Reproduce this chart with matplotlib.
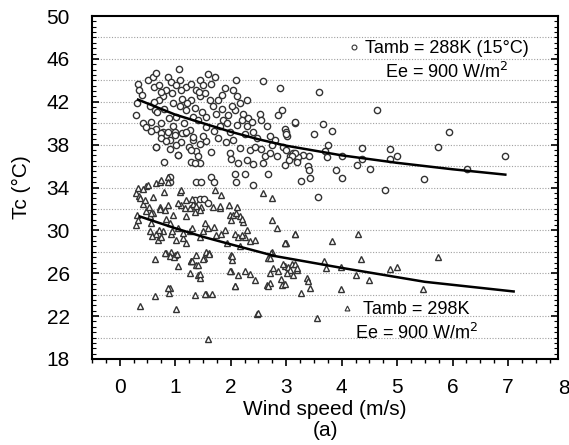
import numpy as np
import matplotlib.pyplot as plt
from matplotlib.ticker import MultipleLocator
from matplotlib.lines import Line2D

plt.rcParams['font.family'] = ['Liberation Sans', 'DejaVu Sans']

# Tamb = 288K, circles (wind speed m/s, Tc degC)
circ_pts = [
    (0.30, 40.8), (0.33, 43.7), (0.35, 43.1), (0.32, 41.9), (0.41, 42.6), (0.42, 40.0),
    (0.48, 39.6), (0.51, 44.0), (0.60, 44.3), (0.66, 44.7), (0.61, 43.4), (0.70, 43.6),
    (0.78, 42.5), (0.71, 42.2), (0.87, 44.3), (0.93, 43.8), (0.84, 43.1), (0.63, 41.2),
    (0.57, 40.1), (0.65, 39.5), (0.75, 40.0), (0.78, 39.2), (0.66, 37.8), (0.84, 38.9),
    (0.90, 38.4), (0.79, 36.4), (1.05, 37.0), (0.96, 39.7), (1.02, 40.6), (1.08, 41.6),
    (0.96, 41.9), (1.13, 42.3), (1.06, 45.1), (1.08, 44.0), (1.20, 43.4), (1.11, 43.1),
    (1.29, 43.7), (1.38, 43.1), (1.44, 44.0), (1.50, 43.6), (1.59, 44.6), (1.71, 44.3),
    (1.44, 42.5), (1.53, 42.8), (1.29, 42.2), (1.20, 41.2), (1.32, 40.6), (1.41, 40.3),
    (1.26, 39.4), (1.17, 39.1), (1.32, 38.4), (1.44, 38.1), (1.56, 38.3), (1.38, 37.4),
    (1.41, 36.9), (1.44, 36.3), (1.29, 36.4), (1.56, 40.6), (1.68, 41.6), (1.77, 42.2),
    (1.84, 42.6), (1.74, 40.9), (1.87, 40.3), (1.80, 39.7), (1.93, 40.0), (1.99, 39.2),
    (2.05, 43.1), (2.11, 42.5), (2.17, 41.9), (2.08, 41.2), (2.23, 40.9), (2.20, 40.3),
    (2.32, 40.5), (2.29, 39.7), (2.41, 39.2), (2.05, 38.4), (2.17, 37.7), (1.99, 37.2),
    (2.14, 36.3), (2.29, 36.6), (2.35, 37.5), (2.44, 37.8), (2.08, 35.3), (2.41, 34.2),
    (2.59, 43.9), (2.53, 40.9), (2.65, 39.7), (2.71, 38.8), (2.74, 38.0), (2.62, 36.9),
    (2.59, 36.3), (2.83, 36.9), (2.68, 35.3), (2.89, 43.3), (2.92, 41.2), (2.86, 40.8),
    (2.98, 39.5), (3.01, 38.8), (2.95, 37.8), (3.07, 36.9), (2.98, 36.1), (3.16, 40.0),
    (3.13, 37.2), (3.19, 36.6), (1.37, 34.5), (1.46, 34.5), (1.64, 35.0), (1.69, 34.5),
    (2.09, 34.5), (2.26, 35.3), (1.35, 32.8), (1.44, 32.9), (1.51, 32.9), (1.59, 32.6),
    (0.90, 35.0), (0.90, 34.5),
    (0.55, 41.6), (0.68, 41.0), (0.80, 41.3), (0.88, 40.5), (0.95, 42.8), (1.00, 39.2),
    (1.15, 40.0), (1.22, 41.9), (1.35, 41.4), (1.48, 41.0), (1.55, 39.6), (1.62, 42.2),
    (1.70, 39.3), (1.78, 38.6), (1.85, 41.3), (1.95, 40.8), (2.02, 41.6), (2.12, 39.8),
    (2.25, 39.0), (2.38, 40.1), (2.48, 38.6), (2.55, 37.6), (2.70, 37.2), (2.80, 38.4),
    (0.90, 37.6), (1.10, 38.2), (1.25, 37.8), (1.50, 38.8), (1.65, 37.3), (1.92, 38.2),
    (2.00, 36.7), (2.40, 36.2), (2.55, 40.3), (0.75, 42.9), (0.62, 42.0), (1.02, 43.6),
    (1.42, 42.9), (1.65, 43.7), (1.90, 43.3), (2.10, 44.0), (2.30, 42.2),
    (0.57, 39.3), (0.75, 39.1), (0.75, 38.6), (0.84, 38.3), (1.02, 38.0), (0.87, 39.2),
    (0.99, 38.9), (1.13, 39.1), (1.20, 39.2), (1.32, 38.7), (1.05, 37.0), (1.29, 37.5),
    (1.35, 36.3), (0.66, 37.8),
    (3.60, 42.9), (4.63, 41.2), (3.16, 40.1), (3.66, 39.9), (3.51, 39.0), (3.83, 39.3),
    (5.93, 39.2), (3.75, 38.0), (3.70, 37.4), (3.73, 36.8), (4.36, 37.7), (4.01, 36.9),
    (4.87, 37.6), (4.88, 36.7), (5.00, 36.9), (4.36, 36.7), (5.73, 37.8), (6.94, 36.9),
    (6.26, 35.7), (4.27, 36.1), (4.51, 35.7), (3.90, 35.6), (4.00, 34.9), (5.48, 34.8),
    (4.78, 33.8), (3.57, 33.1), (3.43, 34.9), (3.27, 34.6), (3.39, 36.0), (3.42, 35.6),
    (3.41, 36.9), (3.30, 37.0), (3.22, 36.8), (3.15, 37.2), (3.10, 36.9), (3.20, 36.4),
    (3.05, 36.6), (3.00, 37.5), (3.00, 39.2), (3.00, 39.0),
]

# Tamb = 298K, triangles
tri_pts = [
    (0.31, 31.4), (0.30, 30.5), (0.37, 22.9), (0.42, 32.5), (0.48, 31.8), (0.54, 31.3),
    (0.57, 30.7), (0.55, 29.9), (0.60, 31.6), (0.66, 29.7), (0.69, 29.1), (0.75, 29.4),
    (0.78, 29.9), (0.63, 27.3), (0.63, 23.9), (0.72, 32.2), (0.81, 31.9), (0.84, 31.1),
    (0.90, 30.7), (0.87, 32.4), (0.96, 31.4), (0.93, 29.7), (0.84, 27.9), (0.93, 28.0),
    (1.00, 27.7), (1.02, 29.1), (1.05, 26.7), (0.90, 24.6), (0.88, 24.2), (1.02, 22.7),
    (1.11, 32.4), (1.17, 32.1), (1.20, 31.3), (1.14, 29.3), (1.20, 28.8), (1.26, 29.9),
    (1.29, 27.1), (1.35, 24.0), (1.38, 26.8), (1.41, 25.8), (1.44, 25.6), (1.47, 32.2),
    (1.53, 30.7), (1.59, 30.2), (1.44, 29.4), (1.56, 28.0), (1.61, 27.9), (1.52, 27.4),
    (1.55, 24.1), (1.67, 24.1), (1.59, 19.9), (1.68, 32.2), (1.74, 29.6), (1.83, 29.7),
    (1.80, 32.1), (1.93, 28.8), (1.99, 31.4), (2.05, 31.4), (2.11, 32.2), (2.17, 31.3),
    (2.23, 30.8), (2.08, 29.7), (2.14, 29.4), (2.29, 30.0), (2.26, 29.4), (2.35, 29.0),
    (2.44, 29.1), (2.17, 28.5), (2.00, 27.7), (2.02, 27.2), (2.00, 26.2), (2.08, 24.8),
    (2.14, 25.8), (2.26, 26.2), (2.35, 25.9), (2.44, 25.4), (2.47, 22.2), (2.65, 24.9),
    (2.70, 25.1), (2.70, 26.0), (2.74, 31.0), (2.83, 30.2), (2.74, 28.0), (2.68, 27.4),
    (2.77, 26.5), (2.86, 26.2), (2.92, 24.9), (2.98, 28.8), (2.98, 26.7), (3.16, 29.7),
    (3.19, 26.3), (3.13, 25.8),
    (0.30, 33.5), (0.35, 33.2), (0.48, 34.1), (0.66, 34.4), (0.72, 34.5), (0.87, 35.0),
    (0.87, 34.5), (1.08, 33.6), (1.80, 32.3), (1.97, 32.4), (2.59, 33.5), (2.74, 33.0),
    (1.71, 33.8), (1.83, 33.3), (0.75, 34.7), (0.33, 34.0), (0.42, 33.9), (0.51, 34.2),
    (0.36, 33.0), (0.45, 32.8), (0.60, 33.1), (0.80, 33.6), (1.11, 33.8), (1.05, 32.6),
    (1.20, 32.8), (1.26, 32.1), (1.32, 32.5), (0.72, 32.0), (0.52, 32.2), (0.57, 31.6),
    (0.33, 31.0), (1.30, 32.9), (1.38, 32.3), (1.45, 31.9), (1.35, 31.7),
    (2.00, 31.0), (2.10, 31.6), (2.20, 31.1), (1.30, 30.2), (1.50, 29.9), (1.70, 30.3),
    (1.90, 30.0), (2.20, 29.6),
    (0.58, 29.5), (0.70, 30.0), (0.95, 29.9), (1.05, 30.2), (1.14, 29.8), (0.82, 27.9),
    (0.90, 27.6), (0.97, 27.5), (1.03, 27.8), (1.26, 26.0), (1.29, 27.1), (0.87, 24.6),
    (1.38, 27.7), (1.50, 27.3), (1.60, 27.8), (1.31, 27.1), (1.41, 26.8), (1.44, 25.9),
    (1.53, 24.1), (1.99, 26.2), (2.07, 24.8), (2.02, 27.6), (2.50, 22.3), (2.73, 27.9),
    (2.71, 27.4), (2.68, 24.8), (2.90, 25.5), (2.95, 26.9), (3.00, 28.8),
    (3.16, 29.7), (4.30, 29.7), (3.82, 29.0), (2.98, 28.8), (4.35, 27.3), (5.73, 27.5),
    (3.68, 27.1), (3.71, 26.5), (3.99, 26.6), (4.87, 26.4), (4.99, 26.6), (4.26, 25.8),
    (4.49, 25.4), (3.38, 25.6), (3.40, 25.3), (3.43, 24.6), (3.26, 24.2), (3.98, 24.5),
    (5.47, 24.5), (3.55, 21.8), (3.04, 26.6), (3.10, 26.9), (3.16, 26.9), (3.06, 26.3),
    (3.02, 26.0), (3.20, 26.5), (2.98, 25.0),
]

# fitted curves
fit_hi_x = [0.33, 1.0, 1.5, 2.0, 2.5, 3.0, 4.0, 5.0, 6.0, 6.95]
fit_hi_y = [42.2, 40.8, 40.0, 39.2, 38.5, 37.9, 37.0, 36.3, 35.7, 35.2]
fit_lo_x = [0.36, 1.0, 1.5, 2.0, 2.8, 4.0, 5.5, 7.1]
fit_lo_y = [31.3, 30.2, 29.4, 28.7, 27.6, 26.5, 25.2, 24.3]

y_ticks = list(range(18, 51, 4))
grid_levels = np.arange(20, 49, 2)

cx, cy = zip(*circ_pts)
tx, ty = zip(*tri_pts)

fig = plt.figure(figsize=(5.69, 4.45), dpi=100)
ax = fig.add_axes([0.1617, 0.1933, 0.8190, 0.7707])

for g in grid_levels:
    ax.axhline(g, color='#a0a0a0', lw=0.8, ls=(0, (1, 1.5)), zorder=0)

ax.plot(cx, cy, 'o', ms=4.5, mfc='white', mec='#333333', mew=1.0, ls='none', zorder=2)
ax.plot(tx, ty, '^', ms=4.5, mfc='white', mec='#333333', mew=1.0, ls='none', zorder=2)
ax.plot(fit_hi_x, fit_hi_y, color='black', lw=1.8, zorder=3)
ax.plot(fit_lo_x, fit_lo_y, color='black', lw=1.8, zorder=3)

ax.set_xlim(-0.5, 7.9)
ax.set_ylim(18, 50)
ax.set_xticks(range(0, 8))
ax.set_yticks(y_ticks)
ax.xaxis.set_minor_locator(MultipleLocator(0.25))
ax.yaxis.set_minor_locator(MultipleLocator(0.5))
ax.tick_params(axis='x', which='major', direction='out', length=5, width=1.2, labelsize=15, pad=9)
ax.tick_params(axis='x', which='minor', direction='out', length=3, width=1.0)
ax.tick_params(axis='y', which='both', direction='in', right=True, labelsize=15, pad=16)
ax.tick_params(axis='y', which='major', length=5, width=1.2)
ax.tick_params(axis='y', which='minor', length=3, width=0.8)
ax.text(8, -0.058, '8', transform=ax.get_xaxis_transform(), ha='center', va='top', fontsize=15)
for s in ax.spines.values():
    s.set_linewidth(1.5)

ax.set_ylabel('Tc (°C)', fontsize=15, labelpad=11)
ax.set_xlabel('Wind speed (m/s)\n(a)', fontsize=15, linespacing=1.15, labelpad=2)

h_c = Line2D([], [], marker='o', ls='none', ms=3.5, mfc='white', mec='#333333', mew=0.8)
h_t = Line2D([], [], marker='^', ls='none', ms=3.5, mfc='white', mec='#333333', mew=0.8)
leg1 = ax.legend([h_c], ['Tamb = 288K (15°C)'], loc='center left', bbox_to_anchor=(0.553, 0.905),
                 frameon=False, fontsize=13, handlelength=0.5, handletextpad=0.35,
                 borderpad=0, borderaxespad=0)
ax.add_artist(leg1)
ax.text(0.762, 0.837, 'Ee = 900 W/m$^2$', transform=ax.transAxes, ha='center', va='center', fontsize=13)
ax.legend([h_t], ['Tamb = 298K'], loc='center left', bbox_to_anchor=(0.538, 0.143),
          frameon=False, fontsize=13, handlelength=0.5, handletextpad=0.6,
          borderpad=0, borderaxespad=0)
ax.text(0.697, 0.076, 'Ee = 900 W/m$^2$', transform=ax.transAxes, ha='center', va='center', fontsize=13)

fig.savefig('out.png', dpi=100)
